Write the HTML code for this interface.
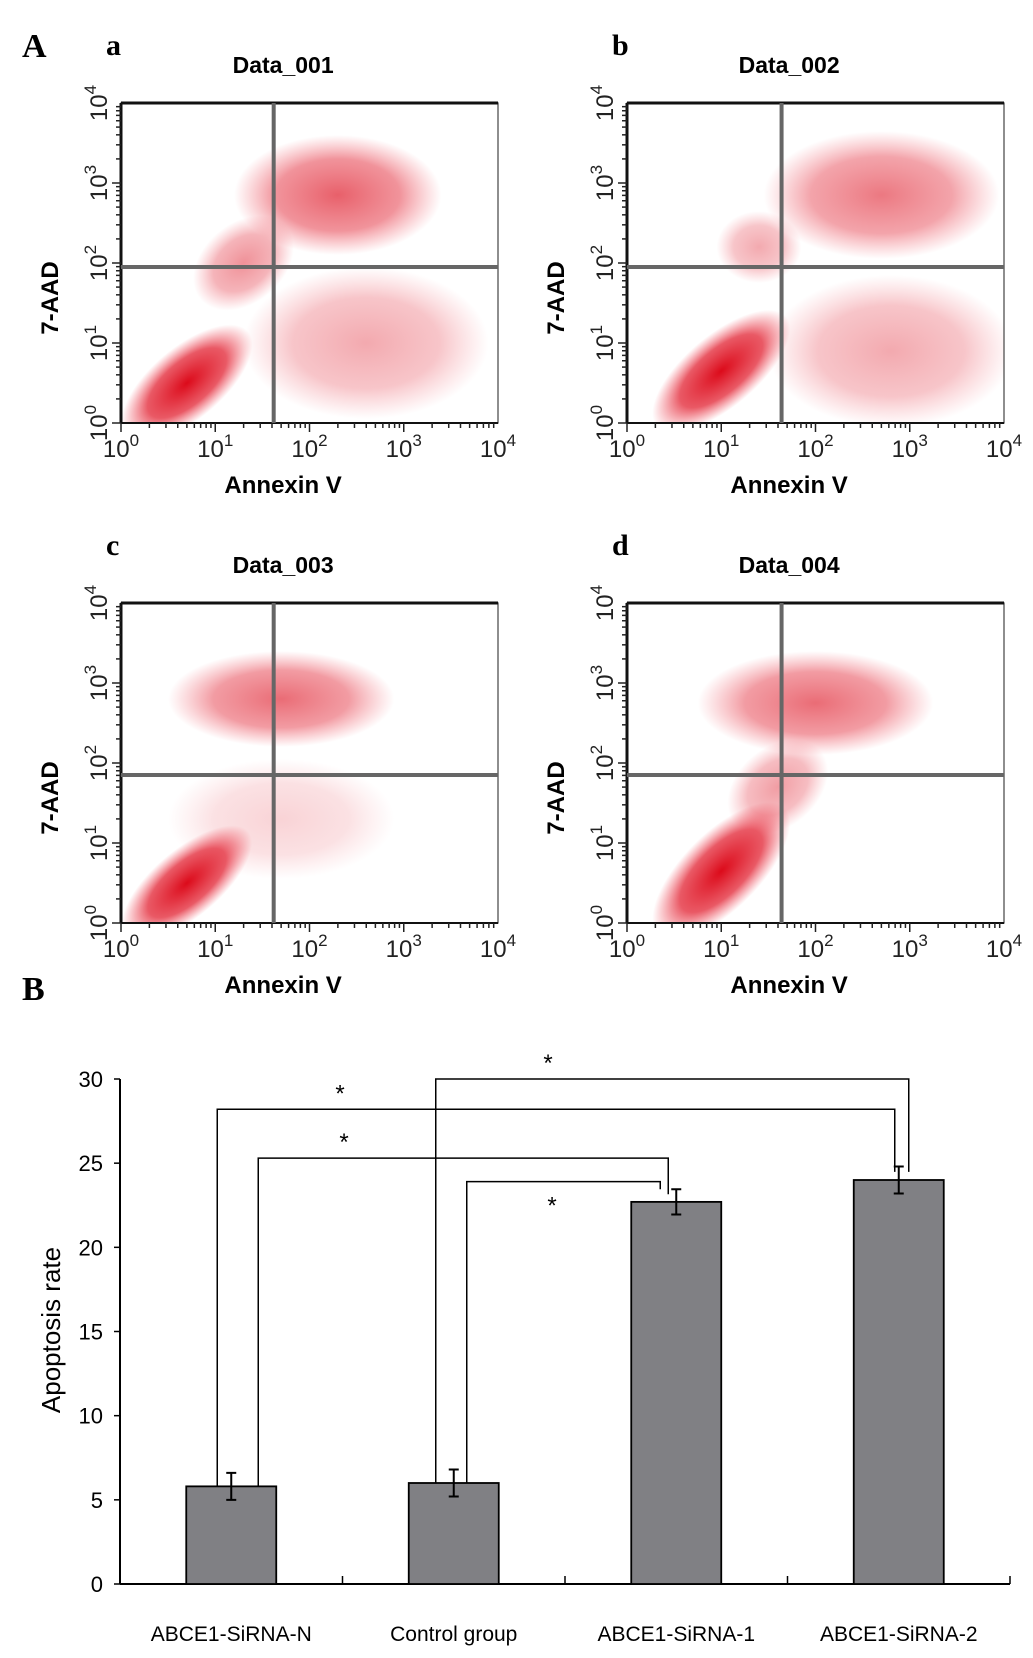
<!DOCTYPE html>
<html><head><meta charset="utf-8"><style>
html,body{margin:0;padding:0;background:#fff}
svg{display:block;font-family:"Liberation Sans",Arial,sans-serif}
</style></head><body>
<svg id="fig" width="1033" height="1658" viewBox="0 0 1033 1658" xmlns="http://www.w3.org/2000/svg">
<defs>
<radialGradient id="rg"><stop offset="0" stop-color="#dc0a1a" stop-opacity="1"/><stop offset="0.6" stop-color="#e22232" stop-opacity="0.75"/><stop offset="1" stop-color="#f04050" stop-opacity="0"/></radialGradient>
</defs>
<text x="22" y="57" font-family="Liberation Serif,serif" font-weight="bold" font-size="34">A</text>
<text x="22" y="1000" font-family="Liberation Serif,serif" font-weight="bold" font-size="34">B</text>
</svg>
<script>
const NS='http://www.w3.org/2000/svg';
const svg=document.getElementById('fig');
function mk(tag,attrs,parent){const e=document.createElementNS(NS,tag);for(const k in attrs)e.setAttribute(k,attrs[k]);(parent||svg).appendChild(e);return e;}

// ---- flow cytometry panels ----
const panelLetters=['a','b','c','d'];
const panelTitles=['Data_001','Data_002','Data_003','Data_004'];
const panelOrigins=[[121,103],[627,103],[121,603],[627,603]];
const gateX=[1.62,1.64,1.62,1.64];
const gateY=[1.95,1.95,1.85,1.85];
// clusters: [xLog, yLog, sdX, sdY, rotationDeg, intensity]
const clustersA=[[0.7,0.5,0.85,0.45,-40,1],[2.3,2.85,1.1,0.75,0,0.65],[2.6,1.0,1.3,0.95,0,0.35],[1.3,2.0,0.6,0.5,-40,0.45]];
const clustersB=[[1.0,0.65,0.9,0.45,-40,1],[2.7,2.85,1.25,0.8,0,0.55],[2.8,0.9,1.3,0.95,0,0.35],[1.4,2.2,0.45,0.45,0,0.35]];
const clustersC=[[0.7,0.5,0.85,0.42,-40,1],[1.7,2.8,1.2,0.6,0,0.6],[1.7,1.3,1.2,0.75,0,0.18]];
const clustersD=[[1.0,0.65,0.95,0.48,-45,1],[2.0,2.75,1.25,0.65,0,0.6],[1.6,1.7,0.6,0.5,-40,0.4]];
const clusterSets=[clustersA,clustersB,clustersC,clustersD];
const PW=377,PH=320;
const pxX=(o,v)=>o[0]+v/4*PW;
const pxY=(o,v)=>o[1]+PH-v/4*PH;

panelTitles.forEach((t,i)=>{
  const o=panelOrigins[i];
  const g=mk('g',{});
  
  
  const lt=mk('text',{x:o[0]-15,y:o[1]-48,'font-family':'Liberation Serif,serif','font-weight':'bold','font-size':30},g);
  lt.textContent=panelLetters[i];
  
  
  const tt=mk('text',{x:o[0]+PW*0.43,y:o[1]-30,'text-anchor':'middle','font-weight':'bold','font-size':23},g);
  tt.textContent=t;
  
  
  const cpath=mk('clipPath',{id:'clip'+i},g);
  mk('rect',{x:o[0],y:o[1],width:PW,height:PH},cpath);
  const sg=mk('g',{'clip-path':'url(#clip'+i+')'},g);
  
  
  clusterSets[i].forEach(c=>{
    const cx=pxX(o,c[0]),cy=pxY(o,c[1]);
    const el=mk('ellipse',{cx:cx,cy:cy,rx:c[2]/4*PW,ry:c[3]/4*PH,fill:'url(#rg)',opacity:c[5],transform:`rotate(${c[4]} ${cx} ${cy})`},sg);
    
    
  });
  const fr=mk('rect',{x:o[0],y:o[1],width:PW,height:PH,fill:'none',stroke:'#444','stroke-width':1.2},g);
  
  
  mk('line',{x1:o[0],y1:o[1],x2:o[0]+PW,y2:o[1],stroke:'#111','stroke-width':3},g);
  mk('line',{x1:o[0],y1:o[1],x2:o[0],y2:o[1]+PH,stroke:'#111','stroke-width':3},g);
  mk('line',{x1:o[0],y1:o[1]+PH,x2:o[0]+PW,y2:o[1]+PH,stroke:'#111','stroke-width':2},g);
  const vx=pxX(o,gateX[i]),hy=pxY(o,gateY[i]);
  const vl=mk('line',{x1:vx,y1:o[1],x2:vx,y2:o[1]+PH,stroke:'#666','stroke-width':4},g);
  
  
  const hl=mk('line',{x1:o[0],y1:hy,x2:o[0]+PW,y2:hy,stroke:'#666','stroke-width':4},g);
  
  
  for(let d=0;d<4;d++)for(let m=1;m<10;m++){
    const v=d+Math.log10(m),L=m==1?9:5;
    mk('line',{x1:pxX(o,v),y1:o[1]+PH,x2:pxX(o,v),y2:o[1]+PH+L,stroke:'#222','stroke-width':1.5},g);
    mk('line',{x1:o[0]-L,y1:pxY(o,v),x2:o[0],y2:pxY(o,v),stroke:'#222','stroke-width':1.5},g);
  }
  for(let d=0;d<=4;d++){
    const xt=mk('text',{x:pxX(o,d),y:o[1]+PH+34,'text-anchor':'middle','font-size':24,fill:'#222'},g);
    xt.innerHTML='10<tspan dy="-11" font-size="17">'+d+'</tspan>';
    
    
    const yy=pxY(o,d);
    const yt=mk('text',{x:0,y:0,'text-anchor':'middle','font-size':24,fill:'#222',transform:`translate(${o[0]-14},${yy}) rotate(-90)`},g);
    yt.innerHTML='10<tspan dy="-11" font-size="17">'+d+'</tspan>';
    
    
  }
  const xa=mk('text',{x:o[0]+PW*0.43,y:o[1]+PH+70,'text-anchor':'middle','font-weight':'bold','font-size':24},g);
  xa.textContent='Annexin V';
  
  
  const ya=mk('text',{x:0,y:0,'text-anchor':'middle','font-weight':'bold','font-size':24,transform:`translate(${o[0]-63},${o[1]+195}) rotate(-90)`},g);
  ya.textContent='7-AAD';
  
  
});

// ---- bar chart B ----
const categories=['ABCE1-SiRNA-N','Control group','ABCE1-SiRNA-1','ABCE1-SiRNA-2'];
const values=[5.8,6.0,22.7,24.0];
const errors=[0.8,0.8,0.75,0.8];
const yTicks=[0,5,10,15,20,25,30];
// significance brackets: [fromIndex, toIndex, level]
const brackets=[[1,3,30],[0,3,28.2],[0,2,25.3],[1,2,23.9]];
const AX={x0:120,x1:1010,y0:1584,yTop:1079,max:30};
const bY=v=>AX.y0-v/AX.max*(AX.y0-AX.yTop);
const slot=(AX.x1-AX.x0)/categories.length;
const bCx=i=>AX.x0+slot*(i+0.5);
const BW=90;
const startOff=[-18,-14,27,13], endOff=[10,-4,-8,-16];
const bg=mk('g',{});


mk('line',{x1:AX.x0,y1:AX.yTop,x2:AX.x0,y2:AX.y0,stroke:'#000','stroke-width':2},bg);
mk('line',{x1:AX.x0,y1:AX.y0,x2:AX.x1,y2:AX.y0,stroke:'#000','stroke-width':2},bg);
yTicks.forEach(t=>{
  mk('line',{x1:AX.x0-6,y1:bY(t),x2:AX.x0,y2:bY(t),stroke:'#000','stroke-width':1.5},bg);
  const tl=mk('text',{x:AX.x0-17,y:bY(t)+8,'text-anchor':'end','font-size':22},bg);
  tl.textContent=t;
  
  
});
for(let i=1;i<=categories.length;i++){
  const x=AX.x0+slot*i;
  mk('line',{x1:x,y1:AX.y0-8,x2:x,y2:AX.y0,stroke:'#000','stroke-width':1.5},bg);
}
const yt=mk('text',{x:0,y:0,'text-anchor':'middle','font-size':26,transform:`translate(60,1330) rotate(-90)`},bg);
yt.textContent='Apoptosis rate';


const starX=[548,340,344,552];
brackets.forEach((b,k)=>{
  const y=bY(b[2]);
  const xa=bCx(b[0])+startOff[k];
  const xb=bCx(b[1])+endOff[k];
  const ya=bY(values[b[0]]);
  const yb=bY(values[b[1]]+errors[b[1]]*(k===3?1:0.6));
  const p=mk('path',{d:`M${xa},${ya} V${y} H${xb} V${yb}`,fill:'none',stroke:'#000','stroke-width':1.5},bg);
  
  
  const s=mk('text',{x:starX[k],y:(k===3?y+32:y-8),'text-anchor':'middle','font-size':24},bg);
  s.textContent='*';
  
  
});
values.forEach((v,i)=>{
  const r=mk('rect',{x:bCx(i)-BW/2,y:bY(v),width:BW,height:AX.y0-bY(v),fill:'#808084',stroke:'#000','stroke-width':1.8},bg);
  
  
  const x=bCx(i),t=bY(v+errors[i]),b=bY(v-errors[i]);
  const e=mk('path',{d:`M${x},${t} V${b} M${x-5},${t} H${x+5} M${x-5},${b} H${x+5}`,stroke:'#000','stroke-width':2,fill:'none'},bg);
  
  
  const l=mk('text',{x:x,y:1641,'text-anchor':'middle','font-size':21},bg);
  l.textContent=categories[i];
  
  
});
</script>
</body></html>
